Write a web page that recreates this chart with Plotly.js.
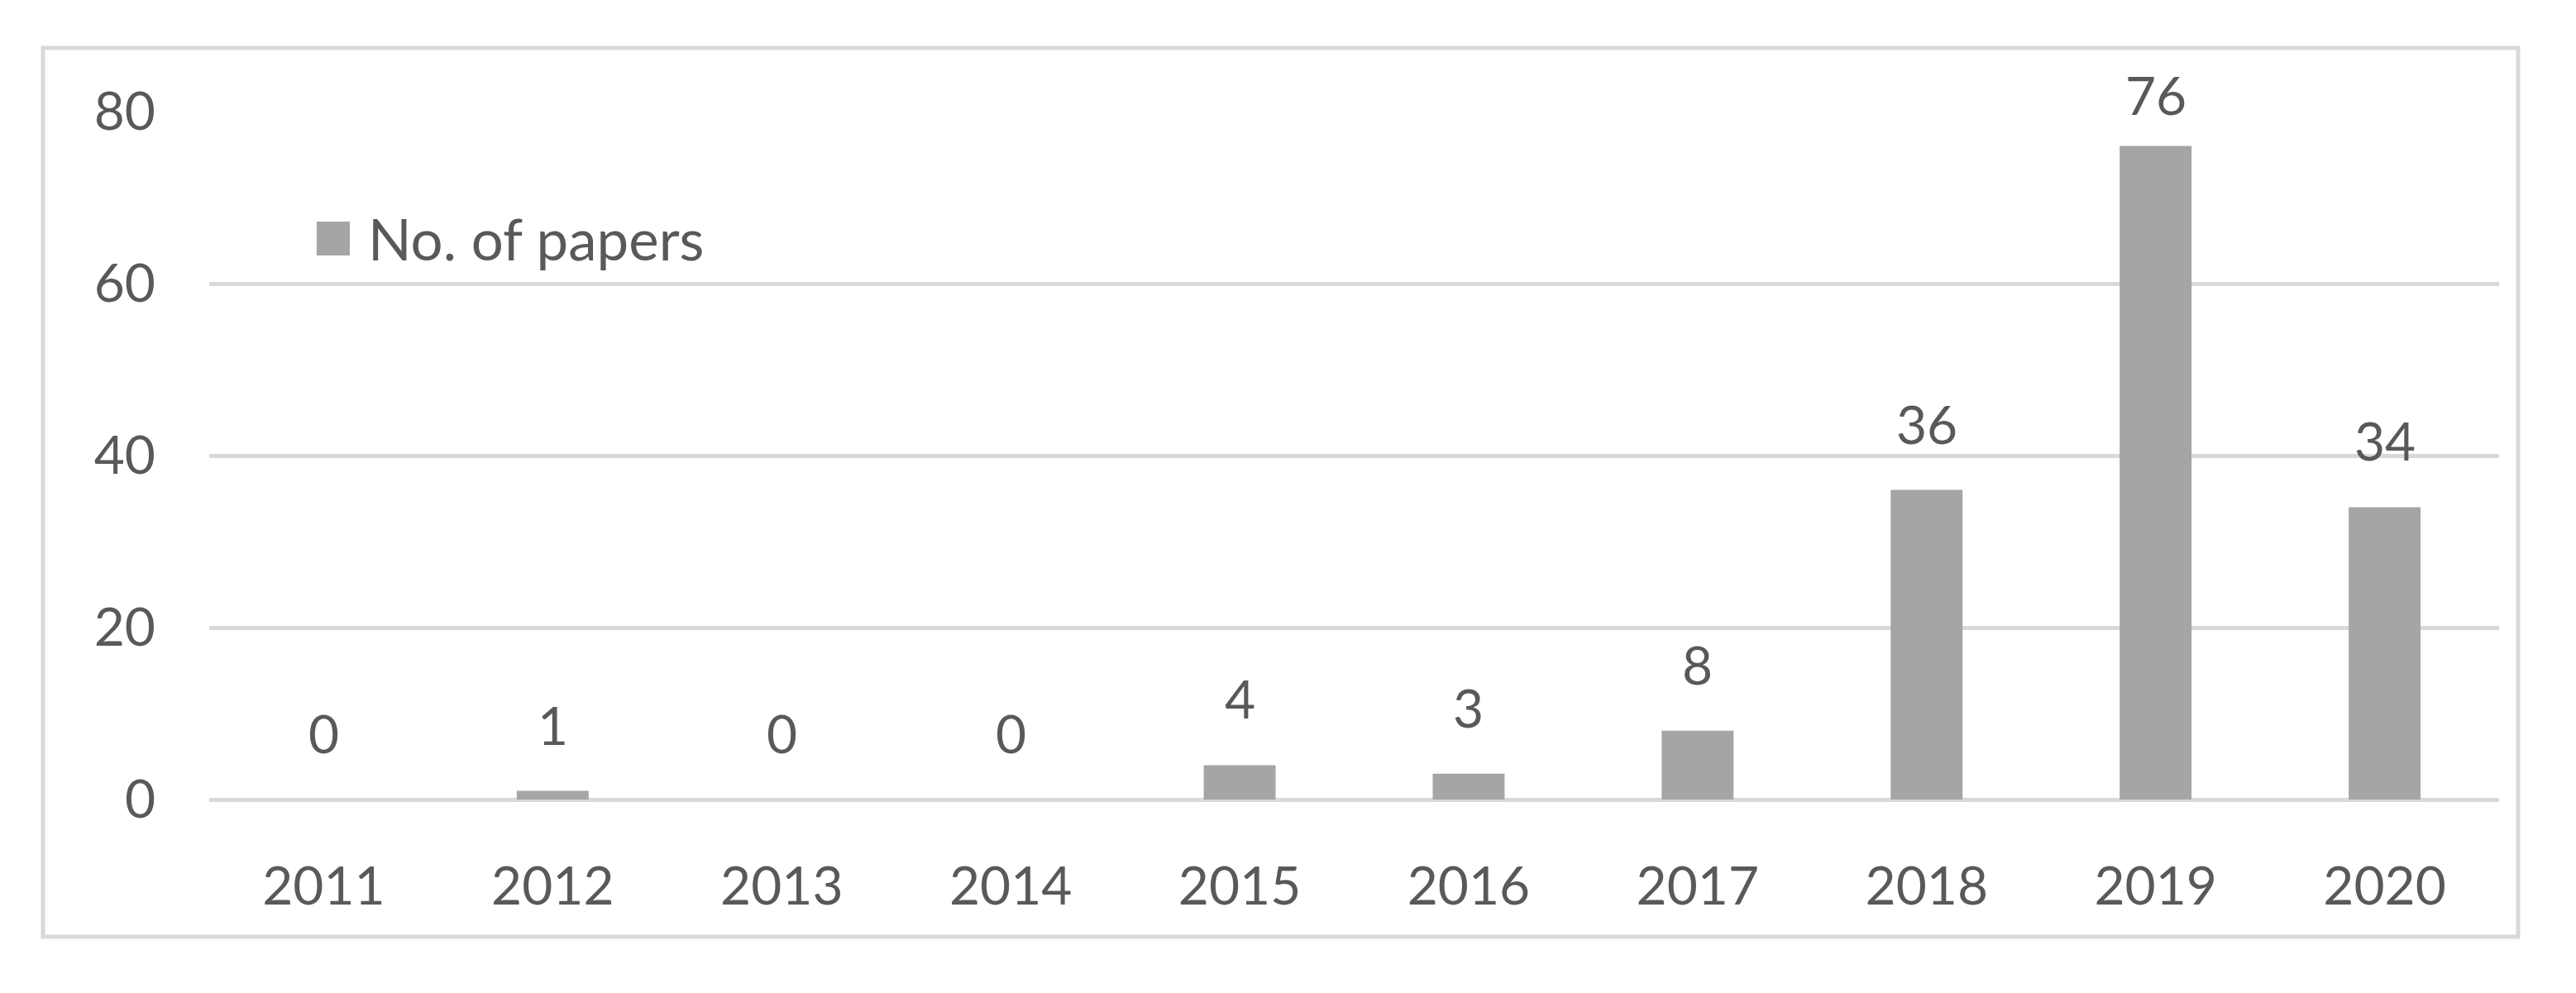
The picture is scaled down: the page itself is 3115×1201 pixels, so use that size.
<!DOCTYPE html>
<html>
<head>
<meta charset="utf-8">
<script src="https://cdn.plot.ly/plotly-3.0.1.min.js"></script>
<style>
  html, body { margin: 0; padding: 0; background: #ffffff; }
  #chart { width: 3115px; height: 1201px; }
</style>
</head>
<body>
<div id="chart"></div>
<script>
// ---- data ----
const years = ["2011", "2012", "2013", "2014", "2015", "2016", "2017", "2018", "2019", "2020"];
const papers = [0, 1, 0, 0, 4, 3, 8, 36, 76, 34];
const seriesName = "No. of papers";
const yTicks = [0, 20, 40, 60, 80];

// ---- style ----
const FONT = "Lato, 'Open Sans', 'DejaVu Sans', sans-serif";
const TXT = "#595959";
const BAR = "#a5a5a5";
const GRID = "#d9d9d9";
const PLOT_H = 832;       // plot-area height in px
const Y_MAX = 80;
const LABEL_GAP = 40;     // px between bar top and its label
const LABEL_CEIL = 812;   // highest px (above zero) a label box may start at

const trace = {
  type: "bar",
  x: years,
  y: papers,
  name: seriesName,
  marker: { color: BAR, line: { width: 0 } },
  hoverinfo: "x+y",
  showlegend: false
};

// data labels, kept inside the chart area like the original (spreadsheet) labels
const labelAnnotations = years.map((yr, i) => {
  const barTopPx = papers[i] * PLOT_H / Y_MAX;
  const shift = Math.min(LABEL_GAP, LABEL_CEIL - barTopPx);
  return {
    x: i,
    y: papers[i],
    xref: "x",
    yref: "y",
    text: String(papers[i]),
    showarrow: false,
    yanchor: "bottom",
    yshift: shift,
    font: { family: FONT, size: 64, color: TXT }
  };
});

const layout = {
  width: 3115,
  height: 1201,
  margin: { l: 253, r: 93, t: 135, b: 234 },
  paper_bgcolor: "#ffffff",
  plot_bgcolor: "#ffffff",
  showlegend: false,
  font: { family: FONT, size: 64, color: TXT },
  bargap: 0.686,
  xaxis: {
    type: "category",
    categoryorder: "array",
    categoryarray: years,
    range: [-0.5, years.length - 0.5],
    autorange: false,
    showgrid: false,
    showline: false,
    zeroline: false,
    ticks: "",
    tickfont: { family: FONT, size: 64, color: TXT },
    ticklabelstandoff: 62
  },
  yaxis: {
    range: [0, Y_MAX],
    autorange: false,
    tickvals: yTicks,
    ticktext: yTicks.map(String),
    showgrid: true,
    gridcolor: GRID,
    gridwidth: 5,
    zeroline: true,
    zerolinecolor: GRID,
    zerolinewidth: 5,
    showline: false,
    ticks: "",
    tickfont: { family: FONT, size: 64, color: TXT },
    ticklabelstandoff: 64
  },
  shapes: [
    {
      type: "rect", xref: "paper", yref: "paper",
      x0: -0.0726, x1: 1.0083, y0: -0.1995, y1: 1.0925,
      line: { color: GRID, width: 5 }, fillcolor: "rgba(0,0,0,0)", layer: "below"
    },
    {
      type: "rect", xref: "paper", yref: "paper",
      x0: 0.0469, x1: 0.0614, y0: 0.791, y1: 0.840,
      line: { width: 0 }, fillcolor: BAR
    }
  ],
  annotations: labelAnnotations.concat([
    {
      xref: "paper", yref: "paper",
      x: 0.0685, y: 0.8150,
      xanchor: "left", yanchor: "middle",
      text: seriesName,
      showarrow: false,
      font: { family: FONT, size: 69, color: TXT }
    }
  ])
};

Plotly.newPlot("chart", [trace], layout, { displayModeBar: false, staticPlot: true });
</script>
</body>
</html>
